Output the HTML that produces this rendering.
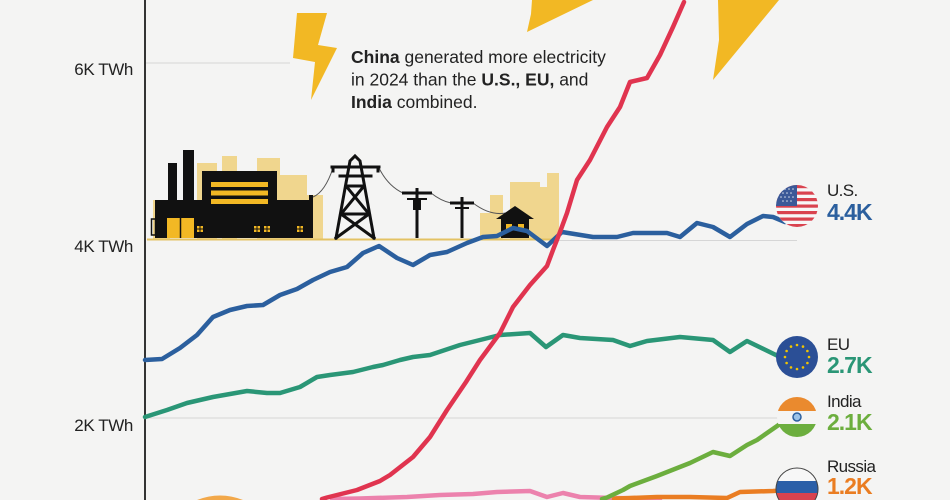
<!DOCTYPE html>
<html>
<head>
<meta charset="utf-8">
<style>
  html, body { margin: 0; padding: 0; background: #f4f4f3; width: 950px; height: 500px; overflow: hidden; }
  svg { display: block; }
  text { font-family: "Liberation Sans", Arial, sans-serif; }
</style>
</head>
<body>
<svg width="950" height="500" viewBox="0 0 950 500" xmlns="http://www.w3.org/2000/svg">
  <defs>
    <clipPath id="cUS"><circle cx="797" cy="206" r="21"/></clipPath>
    <clipPath id="cIN"><circle cx="797" cy="417" r="20"/></clipPath>
    <clipPath id="cRU"><circle cx="797" cy="489" r="21"/></clipPath>
  </defs>
  <rect x="0" y="0" width="950" height="500" fill="#f4f4f3"/>

  <!-- gridlines -->
  <line x1="145" y1="63" x2="290" y2="63" stroke="#d6d6d6" stroke-width="1"/>
  <line x1="557" y1="240.5" x2="797" y2="240.5" stroke="#d6d6d6" stroke-width="1"/>
  <line x1="145" y1="418" x2="797" y2="418" stroke="#d6d6d6" stroke-width="1"/>

  <!-- y labels -->
  <g font-size="17" fill="#222" text-anchor="end" letter-spacing="-0.4">
    <text x="133" y="75">6K TWh</text>
    <text x="133" y="252">4K TWh</text>
    <text x="133" y="431">2K TWh</text>
  </g>

  <!-- bolts -->
  <polygon points="297,13 327,13 318,45 337,48 311,100 315,62 293,58" fill="#f2b824"/>
  <polygon points="532,0 593,0 527,32 531,14" fill="#f2b824"/>
  <polygon points="718,0 779,0 713,80 719,40" fill="#f2b824"/>

  <!-- annotation -->
  <g font-size="17.5" fill="#222">
    <text x="351" y="63"><tspan font-weight="bold">China</tspan> generated more electricity</text>
    <text x="351" y="85.5">in 2024 than the <tspan font-weight="bold">U.S., EU,</tspan> and</text>
    <text x="351" y="108"><tspan font-weight="bold">India</tspan> combined.</text>
  </g>

  <!-- tan background buildings -->
  <g fill="#f0d68e">
    <rect x="153" y="200" width="17" height="39"/>
    <rect x="197" y="163" width="20" height="76"/>
    <rect x="222" y="156" width="15" height="83"/>
    <rect x="257" y="158" width="23" height="81"/>
    <rect x="280" y="175" width="27" height="64"/>
    <rect x="307" y="195" width="16" height="44"/>
    <rect x="480" y="213" width="13" height="26"/>
    <rect x="490" y="195" width="13" height="44"/>
    <rect x="510" y="182" width="30" height="57"/>
    <rect x="533" y="187" width="14" height="52"/>
    <rect x="547" y="173" width="12" height="66"/>
  </g>
  <line x1="147" y1="239.5" x2="557" y2="239.5" stroke="#e3c263" stroke-width="2"/>

  <!-- factory -->
  <g fill="#111">
    <rect x="155" y="200" width="158" height="38"/>
    <rect x="202" y="171" width="75" height="30"/>
    <rect x="168" y="163" width="9" height="40"/>
    <rect x="183" y="150" width="11" height="52"/>
    <rect x="309" y="195" width="4" height="6"/>
  </g>
  <rect x="151.5" y="219" width="4" height="16" fill="none" stroke="#111" stroke-width="1.5"/>
  <g fill="#f2b824">
    <rect x="211" y="182" width="57" height="5"/>
    <rect x="211" y="190.5" width="57" height="5"/>
    <rect x="211" y="199" width="57" height="5"/>
    <rect x="167" y="218" width="27" height="20"/>
    <rect x="197" y="226" width="6" height="6"/>
    <rect x="254" y="226" width="6" height="6"/>
    <rect x="264" y="226" width="6" height="6"/>
    <rect x="297" y="226" width="6" height="6"/>
  </g>
  <line x1="180.5" y1="218" x2="180.5" y2="238" stroke="#111" stroke-width="1.5"/>
  <g stroke="#111" stroke-width="1">
    <line x1="200" y1="226" x2="200" y2="232"/><line x1="197" y1="229" x2="203" y2="229"/>
    <line x1="257" y1="226" x2="257" y2="232"/><line x1="254" y1="229" x2="260" y2="229"/>
    <line x1="267" y1="226" x2="267" y2="232"/><line x1="264" y1="229" x2="270" y2="229"/>
    <line x1="300" y1="226" x2="300" y2="232"/><line x1="297" y1="229" x2="303" y2="229"/>
  </g>

  <!-- wires -->
  <g fill="none" stroke="#555" stroke-width="1">
    <path d="M313,197 Q325,192 333,168"/>
    <path d="M379,168 Q388,186 403,193"/>
    <path d="M431,193 Q441,201 451,203"/>
    <path d="M473,203 Q490,216 506,213"/>
  </g>

  <!-- tower -->
  <g stroke="#111" stroke-width="3" fill="none" stroke-linecap="square">
    <polyline points="336,238 350,161 355,156 360,161 374,238"/>
    <line x1="332" y1="167" x2="379" y2="167"/>
    <line x1="340" y1="176" x2="371" y2="176"/>
    <line x1="333" y1="167" x2="333" y2="171"/>
    <line x1="378" y1="167" x2="378" y2="171"/>
    <line x1="346" y1="186" x2="364" y2="186"/>
    <line x1="346" y1="186" x2="369" y2="214"/>
    <line x1="364" y1="186" x2="341" y2="214"/>
    <line x1="341" y1="214" x2="369" y2="214"/>
    <line x1="341" y1="214" x2="374" y2="238"/>
    <line x1="369" y1="214" x2="336" y2="238"/>
  </g>

  <!-- poles -->
  <g stroke="#111" fill="none">
    <line x1="417" y1="188" x2="417" y2="238" stroke-width="3"/>
    <line x1="402" y1="193" x2="432" y2="193" stroke-width="3"/>
    <line x1="407" y1="199" x2="427" y2="199" stroke-width="2"/>
    <line x1="462" y1="197" x2="462" y2="238" stroke-width="3"/>
    <line x1="450" y1="203" x2="474" y2="203" stroke-width="3"/>
    <line x1="455" y1="208" x2="469" y2="208" stroke-width="2"/>
  </g>
  <rect x="413" y="200" width="8" height="10" fill="#111"/>

  <!-- house -->
  <polygon points="496,219 515,206 534,219" fill="#111"/>
  <rect x="501" y="217" width="28" height="21" fill="#111"/>
  <rect x="506" y="224" width="6" height="6" fill="#f2b824"/>
  <rect x="518" y="224" width="6" height="6" fill="#f2b824"/>

  <!-- orange blob bottom-left (cap only) -->
  <path d="M197,500 Q220,491 243,500 Z" fill="#f2a84a"/>

  <!-- axis -->
  <line x1="145" y1="0" x2="145" y2="500" stroke="#333" stroke-width="2"/>

  <!-- series -->
  <g fill="none" stroke-width="4.5" stroke-linejoin="round" stroke-linecap="round">
    <polyline stroke="#ec82ad" points="332,499 360,498.5 407,497 440,495 473,494 497,492 530,491 547,497 563,493 580,497 613,498 640,498.5 660,499"/>
    <polyline stroke="#ea7d22" points="614,499 617,498.5 657,497 690,497 727,498 740,492 773,491 790,490"/>
    <polyline stroke="#6cae3e" points="602,499 607,497.5 623,490 630,486 657,476 690,463 713,452 730,456 747,445 757,440 780,424 793,422"/>
    <polyline stroke="#2a9676" points="145,417 167,410 187,403 213,397 247,391 267,393 280,393 300,387 317,377 330,375 353,372 373,367 383,365 400,360 413,357 430,355 460,345 480,340 500,335 530,333 546,347 563,335 580,338 613,340 630,346 647,341 680,337 713,340 730,352 747,341 780,357"/>
    <polyline stroke="#2b5f9e" points="145,360 162,359 180,348 197,335 213,317 230,310 247,306 263,305 280,295 297,289 313,280 330,272 347,267 363,253 379,246 397,258 413,265 430,255 447,252 467,243 483,237 497,236 513,228 527,231 547,246 562,232 593,237 617,237 633,233 667,233 680,237 697,223 713,227 730,237 747,224 763,216 773,217 785,222"/>
    <polyline stroke="#e0344f" points="322,499 327,497.5 357,490 380,481 390,475 413,457 430,437 447,410 466,382 480,360 500,333 513,307 530,285 547,266 553,250 560,232 567,213 577,180 590,160 607,127 620,107 630,82 647,78 660,55 673,27 684,2"/>
  </g>

  <!-- US flag -->
  <g clip-path="url(#cUS)">
    <rect x="775" y="184" width="44" height="44" fill="#f7f7f7"/>
    <g fill="#d9434f">
      <rect x="775" y="185" width="44" height="3.2"/>
      <rect x="775" y="191.5" width="44" height="3.2"/>
      <rect x="775" y="198" width="44" height="3.2"/>
      <rect x="775" y="204.5" width="44" height="3.2"/>
      <rect x="775" y="211" width="44" height="3.2"/>
      <rect x="775" y="217.5" width="44" height="3.2"/>
      <rect x="775" y="224" width="44" height="3.2"/>
    </g>
    <rect x="775" y="184" width="22" height="22" fill="#3b5998"/>
    <g fill="#fff" opacity="0.8">
      <circle cx="781" cy="189" r="0.8"/><circle cx="785" cy="189" r="0.8"/><circle cx="789" cy="189" r="0.8"/><circle cx="793" cy="189" r="0.8"/>
      <circle cx="783" cy="193" r="0.8"/><circle cx="787" cy="193" r="0.8"/><circle cx="791" cy="193" r="0.8"/>
      <circle cx="781" cy="197" r="0.8"/><circle cx="785" cy="197" r="0.8"/><circle cx="789" cy="197" r="0.8"/><circle cx="793" cy="197" r="0.8"/>
      <circle cx="783" cy="201" r="0.8"/><circle cx="787" cy="201" r="0.8"/><circle cx="791" cy="201" r="0.8"/>
    </g>
  </g>

  <!-- EU flag -->
  <circle cx="797" cy="357" r="21" fill="#2b4f96"/>
  <g fill="#f2c500">
    <circle cx="797" cy="345" r="1.3"/><circle cx="803" cy="346.6" r="1.3"/><circle cx="807.4" cy="351" r="1.3"/>
    <circle cx="809" cy="357" r="1.3"/><circle cx="807.4" cy="363" r="1.3"/><circle cx="803" cy="367.4" r="1.3"/>
    <circle cx="797" cy="369" r="1.3"/><circle cx="791" cy="367.4" r="1.3"/><circle cx="786.6" cy="363" r="1.3"/>
    <circle cx="785" cy="357" r="1.3"/><circle cx="786.6" cy="351" r="1.3"/><circle cx="791" cy="346.6" r="1.3"/>
  </g>

  <!-- India flag -->
  <g clip-path="url(#cIN)">
    <rect x="776" y="396" width="42" height="15" fill="#ea8a2e"/>
    <rect x="776" y="411" width="42" height="13" fill="#f4f4f3"/>
    <rect x="776" y="424" width="42" height="15" fill="#6cae3e"/>
  </g>
  <circle cx="797" cy="417" r="4" fill="#9cc3e8" stroke="#2b5f9e" stroke-width="1.5"/>

  <!-- Russia flag (kept within frame) -->
  <g clip-path="url(#cRU)">
    <rect x="776" y="468" width="42" height="13" fill="#f7f7f7"/>
    <rect x="776" y="481" width="42" height="12" fill="#2b5fa8"/>
    <rect x="776" y="493" width="42" height="7" fill="#d9434f"/>
  </g>
  <path d="M779.1,500 A21,21 0 1 1 814.9,500" fill="none" stroke="#444" stroke-width="1"/>

  <!-- right labels -->
  <g font-size="17" fill="#222" letter-spacing="-0.6">
    <text x="827" y="196">U.S.</text>
    <text x="827" y="350">EU</text>
    <text x="827" y="407">India</text>
    <text x="827" y="472">Russia</text>
  </g>
  <g font-size="23" font-weight="bold" letter-spacing="-1">
    <text x="827" y="220" fill="#2b5f9e">4.4K</text>
    <text x="827" y="373" fill="#2a9676">2.7K</text>
    <text x="827" y="430" fill="#6cae3e">2.1K</text>
    <text x="827" y="494" fill="#ea7d22">1.2K</text>
  </g>
</svg>
</body>
</html>
